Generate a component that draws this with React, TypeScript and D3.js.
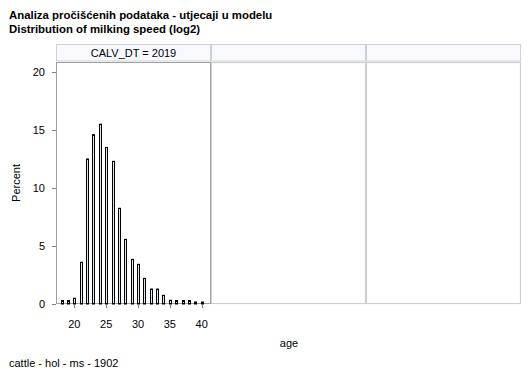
import React from "react";
import * as d3 from "d3";

const ages = [18,19,20,21,22,23,24,25,26,27,28,29,30,31,32,33,34,35,36,37,38,39,40];
const percents = [0.3,0.3,0.5,3.6,12.5,14.6,15.5,13.5,12.3,8.25,5.57,3.85,3.42,2.21,1.29,1.29,0.75,0.32,0.3,0.3,0.3,0.17,0.17];
const xTicks = [20,25,30,35,40];
const yTicks = [0,5,10,15,20];
const titleLines = ["Analiza pročišćenih podataka - utjecaji u modelu", "Distribution of milking speed (log2)"];
const stripLabels = ["CALV_DT = 2019", "", ""];
const footnote = "cattle - hol - ms - 1902";

const W = 529, H = 378;
const font = "'Liberation Sans', Arial, sans-serif";

export default function App() {
  const panelTop = 62, panelBottom = 304;
  const stripTop = 44.5;
  const panelEdges = [56, 211, 366, 521];
  const x = d3.scaleLinear().domain([20, 40]).range([74.3, 201.7]);
  const y = d3.scaleLinear().domain([0, 20]).range([304, 72]);
  const bw = 2;
  return (
    <svg width={W} height={H} style={{ position: "absolute", left: 0, top: 0, background: "#fff" }} fontFamily={font}>
      <rect x={0} y={0} width={W} height={H} fill="#fff" />
      {titleLines.map((t, i) => (
        <text key={i} x={9} y={18.5 + i * 14.5} fontSize={11.4} fontWeight="bold" fill="#000">{t}</text>
      ))}
      {stripLabels.map((s, i) => (
        <g key={i}>
          <rect x={panelEdges[i] + 0.5} y={stripTop} width={panelEdges[i + 1] - panelEdges[i] - 1} height={panelTop - stripTop - 1} fill="#f7f9ff" stroke="#d0d0d0" strokeWidth={1} />
          {s && <text x={(panelEdges[i] + panelEdges[i + 1]) / 2} y={57} fontSize={11} textAnchor="middle" fill="#000">{s}</text>}
        </g>
      ))}
      {[1, 2].map(i => (
        <rect key={i} x={panelEdges[i] + 0.5} y={panelTop + 0.5} width={panelEdges[i + 1] - panelEdges[i] - 1} height={panelBottom - panelTop - 1} fill="none" stroke="#d0d0d0" strokeWidth={1.2} />
      ))}
      <rect x={panelEdges[0] + 0.5} y={panelTop + 0.5} width={panelEdges[1] - panelEdges[0] - 1} height={panelBottom - panelTop - 1} fill="none" stroke="#a0a0a0" strokeWidth={1} />
      {ages.map((a, i) => (
        <rect key={a} x={Math.round(x(a)) - 0.5} y={y(percents[i])} width={bw} height={y(0) - y(percents[i])} fill="#dfe6ef" stroke="#000" strokeWidth={1} />
      ))}
      {yTicks.map(t => (
        <g key={t}>
          <line x1={52} x2={56} y1={y(t) + 0.5} y2={y(t) + 0.5} stroke="#808080" />
          <text x={45} y={y(t) + 4} fontSize={11} textAnchor="end" fill="#000">{t}</text>
        </g>
      ))}
      {xTicks.map(t => (
        <g key={t}>
          <line x1={Math.round(x(t)) + 0.5} x2={Math.round(x(t)) + 0.5} y1={304} y2={308} stroke="#808080" />
          <text x={x(t)} y={328} fontSize={11} textAnchor="middle" fill="#000">{t}</text>
        </g>
      ))}
      <text transform="translate(20,183) rotate(-90)" fontSize={11} textAnchor="middle" fill="#000">Percent</text>
      <text x={289} y={347} fontSize={11} textAnchor="middle" fill="#000">age</text>
      <text x={9} y={367} fontSize={11} fill="#000">{footnote}</text>
    </svg>
  );
}
